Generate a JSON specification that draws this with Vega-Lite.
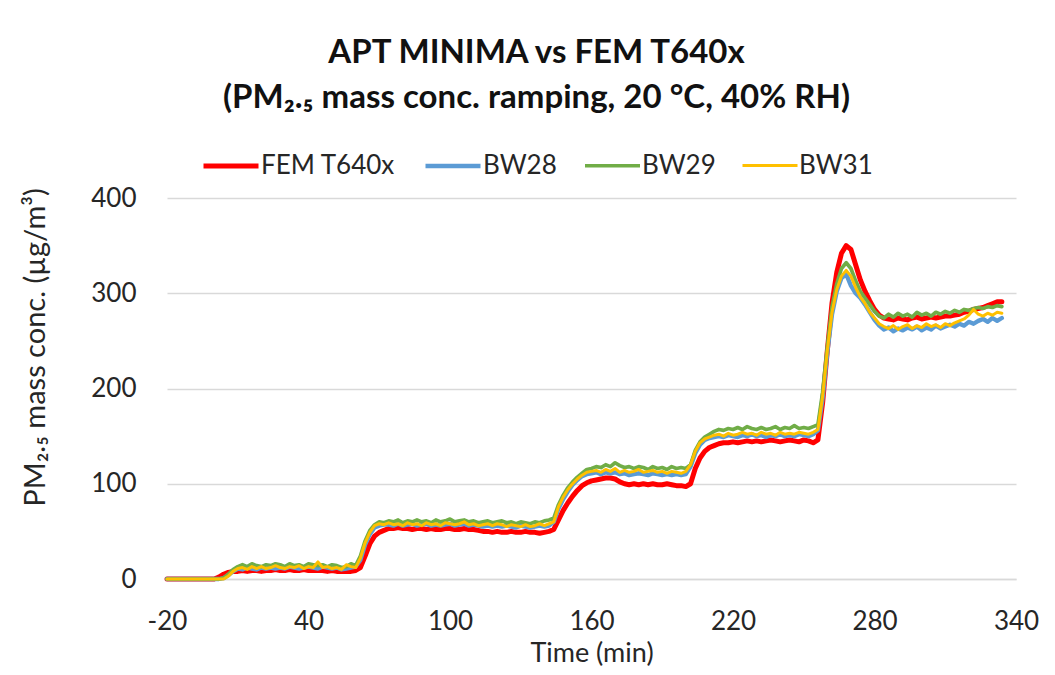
{
  "$schema": "https://vega.github.io/schema/vega-lite/v6.json",
  "autosize": {"type": "none"},
  "padding": {"left": 167, "top": 198, "right": 39, "bottom": 96},
  "width": 849,
  "height": 381,
  "background": "white",
  "title": {
    "text": ["APT MINIMA vs FEM T640x", "(PM₂.₅ mass conc. ramping, 20 °C, 40% RH)"],
    "font": "Lato",
    "fontSize": 33,
    "fontWeight": "bold",
    "color": "#111111",
    "anchor": "middle",
    "dx": -55,
    "offset": 21,
    "lineHeight": 45
  },
  "data": {
    "values": [
      {"t": -20, "FEM T640x": 0, "BW28": 0, "BW29": 0, "BW31": 0},
      {"t": -18, "FEM T640x": 0, "BW28": 0, "BW29": 0, "BW31": 0},
      {"t": -16, "FEM T640x": 0, "BW28": 0, "BW29": 0, "BW31": 0},
      {"t": -14, "FEM T640x": 0, "BW28": 0, "BW29": 0, "BW31": 0},
      {"t": -12, "FEM T640x": 0, "BW28": 0, "BW29": 0, "BW31": 0},
      {"t": -10, "FEM T640x": 0, "BW28": 0, "BW29": 0, "BW31": 0},
      {"t": -8, "FEM T640x": 0, "BW28": 0, "BW29": 0, "BW31": 0},
      {"t": -6, "FEM T640x": 0, "BW28": 0, "BW29": 0, "BW31": 0},
      {"t": -4, "FEM T640x": 0, "BW28": 0, "BW29": 0, "BW31": 0},
      {"t": -2, "FEM T640x": 0, "BW28": 0, "BW29": 0, "BW31": 0},
      {"t": 0, "FEM T640x": 0, "BW28": 0, "BW29": 0, "BW31": 0},
      {"t": 2, "FEM T640x": 2, "BW28": 0, "BW29": 0, "BW31": 0},
      {"t": 4, "FEM T640x": 5, "BW28": 1, "BW29": 1, "BW31": 0},
      {"t": 6, "FEM T640x": 7, "BW28": 4, "BW29": 5, "BW31": 3},
      {"t": 8, "FEM T640x": 8, "BW28": 8, "BW29": 10, "BW31": 8},
      {"t": 10, "FEM T640x": 8, "BW28": 11, "BW29": 13, "BW31": 11},
      {"t": 12, "FEM T640x": 9, "BW28": 10, "BW29": 15, "BW31": 12},
      {"t": 14, "FEM T640x": 8, "BW28": 12, "BW29": 13, "BW31": 10},
      {"t": 16, "FEM T640x": 9, "BW28": 11, "BW29": 16, "BW31": 13},
      {"t": 18, "FEM T640x": 9, "BW28": 10, "BW29": 14, "BW31": 11},
      {"t": 20, "FEM T640x": 8, "BW28": 12, "BW29": 13, "BW31": 13},
      {"t": 22, "FEM T640x": 9, "BW28": 11, "BW29": 15, "BW31": 11},
      {"t": 24, "FEM T640x": 9, "BW28": 12, "BW29": 14, "BW31": 12},
      {"t": 26, "FEM T640x": 10, "BW28": 11, "BW29": 16, "BW31": 14},
      {"t": 28, "FEM T640x": 9, "BW28": 12, "BW29": 15, "BW31": 12},
      {"t": 30, "FEM T640x": 9, "BW28": 11, "BW29": 13, "BW31": 11},
      {"t": 32, "FEM T640x": 10, "BW28": 13, "BW29": 16, "BW31": 13},
      {"t": 34, "FEM T640x": 9, "BW28": 12, "BW29": 14, "BW31": 12},
      {"t": 36, "FEM T640x": 9, "BW28": 11, "BW29": 15, "BW31": 14},
      {"t": 38, "FEM T640x": 10, "BW28": 12, "BW29": 13, "BW31": 11},
      {"t": 40, "FEM T640x": 9, "BW28": 13, "BW29": 16, "BW31": 13},
      {"t": 42, "FEM T640x": 9, "BW28": 12, "BW29": 15, "BW31": 12},
      {"t": 44, "FEM T640x": 9, "BW28": 11, "BW29": 14, "BW31": 18},
      {"t": 46, "FEM T640x": 9, "BW28": 13, "BW29": 15, "BW31": 12},
      {"t": 48, "FEM T640x": 8, "BW28": 12, "BW29": 13, "BW31": 13},
      {"t": 50, "FEM T640x": 9, "BW28": 11, "BW29": 15, "BW31": 11},
      {"t": 52, "FEM T640x": 8, "BW28": 12, "BW29": 14, "BW31": 12},
      {"t": 54, "FEM T640x": 8, "BW28": 10, "BW29": 12, "BW31": 10},
      {"t": 56, "FEM T640x": 8, "BW28": 11, "BW29": 13, "BW31": 15},
      {"t": 58, "FEM T640x": 8, "BW28": 12, "BW29": 16, "BW31": 13},
      {"t": 60, "FEM T640x": 9, "BW28": 13, "BW29": 14, "BW31": 12},
      {"t": 62, "FEM T640x": 12, "BW28": 20, "BW29": 24, "BW31": 22},
      {"t": 64, "FEM T640x": 24, "BW28": 36, "BW29": 40, "BW31": 38},
      {"t": 66, "FEM T640x": 37, "BW28": 47, "BW29": 51, "BW31": 49},
      {"t": 68, "FEM T640x": 45, "BW28": 54, "BW29": 57, "BW31": 56},
      {"t": 70, "FEM T640x": 49, "BW28": 56, "BW29": 60, "BW31": 58},
      {"t": 72, "FEM T640x": 51, "BW28": 57, "BW29": 59, "BW31": 57},
      {"t": 74, "FEM T640x": 53, "BW28": 57, "BW29": 61, "BW31": 59},
      {"t": 76, "FEM T640x": 53, "BW28": 56, "BW29": 60, "BW31": 57},
      {"t": 78, "FEM T640x": 54, "BW28": 58, "BW29": 62, "BW31": 58},
      {"t": 80, "FEM T640x": 53, "BW28": 56, "BW29": 59, "BW31": 56},
      {"t": 82, "FEM T640x": 53, "BW28": 57, "BW29": 61, "BW31": 59},
      {"t": 84, "FEM T640x": 52, "BW28": 58, "BW29": 60, "BW31": 57},
      {"t": 86, "FEM T640x": 53, "BW28": 56, "BW29": 62, "BW31": 58},
      {"t": 88, "FEM T640x": 53, "BW28": 57, "BW29": 60, "BW31": 56},
      {"t": 90, "FEM T640x": 52, "BW28": 58, "BW29": 61, "BW31": 59},
      {"t": 92, "FEM T640x": 53, "BW28": 56, "BW29": 59, "BW31": 57},
      {"t": 94, "FEM T640x": 52, "BW28": 57, "BW29": 62, "BW31": 58},
      {"t": 96, "FEM T640x": 52, "BW28": 56, "BW29": 60, "BW31": 56},
      {"t": 98, "FEM T640x": 53, "BW28": 57, "BW29": 61, "BW31": 59},
      {"t": 100, "FEM T640x": 53, "BW28": 58, "BW29": 63, "BW31": 58},
      {"t": 102, "FEM T640x": 52, "BW28": 56, "BW29": 60, "BW31": 57},
      {"t": 104, "FEM T640x": 52, "BW28": 57, "BW29": 61, "BW31": 58},
      {"t": 106, "FEM T640x": 53, "BW28": 58, "BW29": 62, "BW31": 60},
      {"t": 108, "FEM T640x": 52, "BW28": 56, "BW29": 60, "BW31": 57},
      {"t": 110, "FEM T640x": 52, "BW28": 57, "BW29": 61, "BW31": 58},
      {"t": 112, "FEM T640x": 51, "BW28": 56, "BW29": 59, "BW31": 56},
      {"t": 114, "FEM T640x": 50, "BW28": 55, "BW29": 60, "BW31": 57},
      {"t": 116, "FEM T640x": 50, "BW28": 56, "BW29": 61, "BW31": 58},
      {"t": 118, "FEM T640x": 49, "BW28": 55, "BW29": 59, "BW31": 56},
      {"t": 120, "FEM T640x": 50, "BW28": 56, "BW29": 60, "BW31": 58},
      {"t": 122, "FEM T640x": 49, "BW28": 55, "BW29": 61, "BW31": 57},
      {"t": 124, "FEM T640x": 49, "BW28": 56, "BW29": 59, "BW31": 55},
      {"t": 126, "FEM T640x": 50, "BW28": 55, "BW29": 60, "BW31": 57},
      {"t": 128, "FEM T640x": 49, "BW28": 54, "BW29": 58, "BW31": 56},
      {"t": 130, "FEM T640x": 49, "BW28": 56, "BW29": 60, "BW31": 55},
      {"t": 132, "FEM T640x": 50, "BW28": 55, "BW29": 59, "BW31": 57},
      {"t": 134, "FEM T640x": 49, "BW28": 54, "BW29": 58, "BW31": 55},
      {"t": 136, "FEM T640x": 49, "BW28": 55, "BW29": 60, "BW31": 56},
      {"t": 138, "FEM T640x": 48, "BW28": 56, "BW29": 59, "BW31": 58},
      {"t": 140, "FEM T640x": 49, "BW28": 55, "BW29": 61, "BW31": 56},
      {"t": 142, "FEM T640x": 50, "BW28": 56, "BW29": 62, "BW31": 58},
      {"t": 144, "FEM T640x": 52, "BW28": 60, "BW29": 64, "BW31": 60},
      {"t": 146, "FEM T640x": 62, "BW28": 74, "BW29": 78, "BW31": 76},
      {"t": 148, "FEM T640x": 72, "BW28": 84, "BW29": 88, "BW31": 86},
      {"t": 150, "FEM T640x": 80, "BW28": 92, "BW29": 96, "BW31": 94},
      {"t": 152, "FEM T640x": 87, "BW28": 99, "BW29": 102, "BW31": 100},
      {"t": 154, "FEM T640x": 93, "BW28": 104, "BW29": 107, "BW31": 105},
      {"t": 156, "FEM T640x": 98, "BW28": 108, "BW29": 111, "BW31": 109},
      {"t": 158, "FEM T640x": 101, "BW28": 110, "BW29": 115, "BW31": 112},
      {"t": 160, "FEM T640x": 103, "BW28": 111, "BW29": 116, "BW31": 113},
      {"t": 162, "FEM T640x": 104, "BW28": 112, "BW29": 118, "BW31": 114},
      {"t": 164, "FEM T640x": 105, "BW28": 110, "BW29": 117, "BW31": 112},
      {"t": 166, "FEM T640x": 106, "BW28": 112, "BW29": 120, "BW31": 115},
      {"t": 168, "FEM T640x": 106, "BW28": 111, "BW29": 118, "BW31": 113},
      {"t": 170, "FEM T640x": 105, "BW28": 112, "BW29": 122, "BW31": 116},
      {"t": 172, "FEM T640x": 102, "BW28": 110, "BW29": 119, "BW31": 112},
      {"t": 174, "FEM T640x": 100, "BW28": 111, "BW29": 117, "BW31": 114},
      {"t": 176, "FEM T640x": 99, "BW28": 109, "BW29": 118, "BW31": 112},
      {"t": 178, "FEM T640x": 100, "BW28": 110, "BW29": 116, "BW31": 113},
      {"t": 180, "FEM T640x": 99, "BW28": 111, "BW29": 118, "BW31": 115},
      {"t": 182, "FEM T640x": 100, "BW28": 110, "BW29": 117, "BW31": 112},
      {"t": 184, "FEM T640x": 99, "BW28": 109, "BW29": 115, "BW31": 113},
      {"t": 186, "FEM T640x": 100, "BW28": 111, "BW29": 118, "BW31": 114},
      {"t": 188, "FEM T640x": 99, "BW28": 110, "BW29": 116, "BW31": 112},
      {"t": 190, "FEM T640x": 99, "BW28": 109, "BW29": 117, "BW31": 113},
      {"t": 192, "FEM T640x": 100, "BW28": 110, "BW29": 115, "BW31": 111},
      {"t": 194, "FEM T640x": 99, "BW28": 109, "BW29": 118, "BW31": 113},
      {"t": 196, "FEM T640x": 98, "BW28": 110, "BW29": 116, "BW31": 112},
      {"t": 198, "FEM T640x": 98, "BW28": 109, "BW29": 117, "BW31": 111},
      {"t": 200, "FEM T640x": 97, "BW28": 110, "BW29": 116, "BW31": 113},
      {"t": 202, "FEM T640x": 100, "BW28": 118, "BW29": 120, "BW31": 120},
      {"t": 204, "FEM T640x": 116, "BW28": 132, "BW29": 135, "BW31": 134},
      {"t": 206, "FEM T640x": 127, "BW28": 141, "BW29": 144, "BW31": 143},
      {"t": 208, "FEM T640x": 134, "BW28": 146, "BW29": 149, "BW31": 147},
      {"t": 210, "FEM T640x": 138, "BW28": 148, "BW29": 152, "BW31": 149},
      {"t": 212, "FEM T640x": 140, "BW28": 149, "BW29": 155, "BW31": 151},
      {"t": 214, "FEM T640x": 142, "BW28": 150, "BW29": 157, "BW31": 152},
      {"t": 216, "FEM T640x": 143, "BW28": 149, "BW29": 156, "BW31": 150},
      {"t": 218, "FEM T640x": 143, "BW28": 151, "BW29": 158, "BW31": 153},
      {"t": 220, "FEM T640x": 144, "BW28": 150, "BW29": 157, "BW31": 151},
      {"t": 222, "FEM T640x": 143, "BW28": 149, "BW29": 159, "BW31": 152},
      {"t": 224, "FEM T640x": 144, "BW28": 151, "BW29": 157, "BW31": 154},
      {"t": 226, "FEM T640x": 145, "BW28": 150, "BW29": 160, "BW31": 152},
      {"t": 228, "FEM T640x": 144, "BW28": 152, "BW29": 158, "BW31": 153},
      {"t": 230, "FEM T640x": 145, "BW28": 150, "BW29": 157, "BW31": 151},
      {"t": 232, "FEM T640x": 144, "BW28": 151, "BW29": 159, "BW31": 154},
      {"t": 234, "FEM T640x": 145, "BW28": 149, "BW29": 157, "BW31": 152},
      {"t": 236, "FEM T640x": 146, "BW28": 151, "BW29": 158, "BW31": 153},
      {"t": 238, "FEM T640x": 145, "BW28": 150, "BW29": 160, "BW31": 151},
      {"t": 240, "FEM T640x": 144, "BW28": 152, "BW29": 157, "BW31": 154},
      {"t": 242, "FEM T640x": 145, "BW28": 150, "BW29": 159, "BW31": 152},
      {"t": 244, "FEM T640x": 146, "BW28": 151, "BW29": 158, "BW31": 153},
      {"t": 246, "FEM T640x": 145, "BW28": 150, "BW29": 161, "BW31": 152},
      {"t": 248, "FEM T640x": 144, "BW28": 152, "BW29": 158, "BW31": 154},
      {"t": 250, "FEM T640x": 146, "BW28": 151, "BW29": 159, "BW31": 153},
      {"t": 252, "FEM T640x": 145, "BW28": 150, "BW29": 158, "BW31": 152},
      {"t": 254, "FEM T640x": 143, "BW28": 152, "BW29": 160, "BW31": 154},
      {"t": 256, "FEM T640x": 146, "BW28": 156, "BW29": 162, "BW31": 157},
      {"t": 258, "FEM T640x": 185, "BW28": 190, "BW29": 196, "BW31": 192},
      {"t": 260, "FEM T640x": 240, "BW28": 238, "BW29": 244, "BW31": 240},
      {"t": 262, "FEM T640x": 290, "BW28": 278, "BW29": 286, "BW31": 280},
      {"t": 264, "FEM T640x": 322, "BW28": 302, "BW29": 310, "BW31": 304},
      {"t": 266, "FEM T640x": 342, "BW28": 316, "BW29": 326, "BW31": 318},
      {"t": 268, "FEM T640x": 350, "BW28": 320, "BW29": 332, "BW31": 324},
      {"t": 270, "FEM T640x": 346, "BW28": 308, "BW29": 326, "BW31": 318},
      {"t": 272, "FEM T640x": 330, "BW28": 300, "BW29": 313, "BW31": 306},
      {"t": 274, "FEM T640x": 314, "BW28": 295, "BW29": 302, "BW31": 296},
      {"t": 276, "FEM T640x": 302, "BW28": 288, "BW29": 295, "BW31": 289},
      {"t": 278, "FEM T640x": 292, "BW28": 280, "BW29": 288, "BW31": 280},
      {"t": 280, "FEM T640x": 283, "BW28": 272, "BW29": 281, "BW31": 274},
      {"t": 282, "FEM T640x": 277, "BW28": 266, "BW29": 276, "BW31": 268},
      {"t": 284, "FEM T640x": 274, "BW28": 262, "BW29": 274, "BW31": 265},
      {"t": 286, "FEM T640x": 273, "BW28": 264, "BW29": 278, "BW31": 263},
      {"t": 288, "FEM T640x": 272, "BW28": 260, "BW29": 275, "BW31": 266},
      {"t": 290, "FEM T640x": 274, "BW28": 263, "BW29": 279, "BW31": 262},
      {"t": 292, "FEM T640x": 273, "BW28": 261, "BW29": 276, "BW31": 265},
      {"t": 294, "FEM T640x": 272, "BW28": 264, "BW29": 278, "BW31": 267},
      {"t": 296, "FEM T640x": 274, "BW28": 262, "BW29": 275, "BW31": 263},
      {"t": 298, "FEM T640x": 275, "BW28": 265, "BW29": 280, "BW31": 266},
      {"t": 300, "FEM T640x": 273, "BW28": 261, "BW29": 277, "BW31": 264},
      {"t": 302, "FEM T640x": 274, "BW28": 264, "BW29": 279, "BW31": 268},
      {"t": 304, "FEM T640x": 275, "BW28": 262, "BW29": 276, "BW31": 265},
      {"t": 306, "FEM T640x": 274, "BW28": 266, "BW29": 280, "BW31": 267},
      {"t": 308, "FEM T640x": 275, "BW28": 263, "BW29": 278, "BW31": 264},
      {"t": 310, "FEM T640x": 276, "BW28": 265, "BW29": 281, "BW31": 268},
      {"t": 312, "FEM T640x": 276, "BW28": 267, "BW29": 279, "BW31": 266},
      {"t": 314, "FEM T640x": 277, "BW28": 265, "BW29": 282, "BW31": 269},
      {"t": 316, "FEM T640x": 278, "BW28": 268, "BW29": 280, "BW31": 271},
      {"t": 318, "FEM T640x": 280, "BW28": 266, "BW29": 283, "BW31": 273},
      {"t": 320, "FEM T640x": 281, "BW28": 270, "BW29": 282, "BW31": 277},
      {"t": 322, "FEM T640x": 283, "BW28": 268, "BW29": 284, "BW31": 283},
      {"t": 324, "FEM T640x": 284, "BW28": 271, "BW29": 285, "BW31": 278},
      {"t": 326, "FEM T640x": 285, "BW28": 273, "BW29": 284, "BW31": 276},
      {"t": 328, "FEM T640x": 287, "BW28": 270, "BW29": 286, "BW31": 279},
      {"t": 330, "FEM T640x": 289, "BW28": 274, "BW29": 285, "BW31": 277},
      {"t": 332, "FEM T640x": 291, "BW28": 271, "BW29": 287, "BW31": 280},
      {"t": 334, "FEM T640x": 291, "BW28": 274, "BW29": 286, "BW31": 279}
    ]
  },
  "transform": [
    {"fold": ["FEM T640x", "BW28", "BW29", "BW31"], "as": ["series", "value"]}
  ],
  "mark": {"type": "line", "strokeJoin": "round", "strokeCap": "round"},
  "encoding": {
    "x": {
      "field": "t",
      "type": "quantitative",
      "scale": {"domain": [-20, 340], "nice": false, "zero": false},
      "axis": {
        "title": "Time (min)",
        "values": [-20, 40, 100, 160, 220, 280, 340],
        "labelExpr": "'' + datum.value",
        "labelFlush": false,
        "grid": false,
        "domain": true,
        "domainColor": "#D9D9D9",
        "domainWidth": 1.5,
        "ticks": false,
        "tickSize": 0,
        "labelPadding": 29,
        "labelFont": "Lato",
        "labelFontSize": 26,
        "labelColor": "#262626",
        "titleFont": "Lato",
        "titleFontSize": 27,
        "titleFontWeight": "normal",
        "titleColor": "#262626",
        "titlePadding": 6
      }
    },
    "y": {
      "field": "value",
      "type": "quantitative",
      "scale": {"domain": [0, 400], "nice": false},
      "axis": {
        "title": "PM₂.₅ mass conc. (µg/m³)",
        "values": [0, 100, 200, 300, 400],
        "grid": true,
        "gridColor": "#D9D9D9",
        "gridWidth": 1.5,
        "domain": false,
        "ticks": false,
        "tickSize": 0,
        "labelPadding": 31,
        "labelFont": "Lato",
        "labelFontSize": 26,
        "labelColor": "#262626",
        "titleFont": "Lato",
        "titleFontSize": 29,
        "titleFontWeight": "normal",
        "titleColor": "#262626",
        "titleAngle": -90,
        "titleAlign": "center",
        "titleBaseline": "alphabetic",
        "titleX": -123,
        "titleY": 149
      }
    },
    "color": {
      "field": "series",
      "type": "nominal",
      "scale": {
        "domain": ["FEM T640x", "BW28", "BW29", "BW31"],
        "range": ["#FF0000", "#5B9BD5", "#70AD47", "#FFC000"]
      },
      "legend": {
        "title": null,
        "orient": "none",
        "legendX": 34,
        "legendY": -62,
        "direction": "horizontal",
        "symbolType": "stroke",
        "symbolSize": 3025,
        "labelFont": "Lato",
        "labelFontSize": 26,
        "labelColor": "#262626",
        "labelOffset": 0,
        "columnPadding": 20
      }
    },
    "strokeWidth": {
      "field": "series",
      "type": "nominal",
      "scale": {
        "domain": ["FEM T640x", "BW28", "BW29", "BW31"],
        "range": [5, 3, 3, 3]
      },
      "legend": {
        "title": null,
        "orient": "none",
        "legendX": 34,
        "legendY": -62,
        "direction": "horizontal",
        "symbolType": "stroke",
        "symbolSize": 3025,
        "labelFont": "Lato",
        "labelFontSize": 26,
        "labelColor": "#262626",
        "labelOffset": 0,
        "columnPadding": 20
      }
    }
  },
  "config": {
    "view": {"stroke": null}
  }
}
